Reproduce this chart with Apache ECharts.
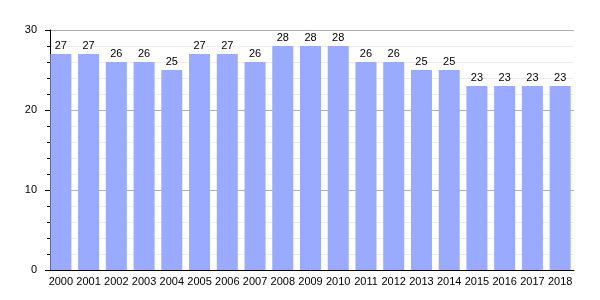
<!DOCTYPE html>
<html><head><meta charset="utf-8">
<script src="https://cdn.jsdelivr.net/npm/echarts@6/dist/echarts.min.js"></script>
<style>html,body{margin:0;padding:0;background:#fff}#c{width:600px;height:300px}</style>
</head><body><div id="c"></div>
<script>
const years = ['2000','2001','2002','2003','2004','2005','2006','2007','2008','2009','2010','2011','2012','2013','2014','2015','2016','2017','2018'];
const values = [27,27,26,26,25,27,27,26,28,28,28,26,26,25,25,23,23,23,23];
const chart = echarts.init(document.getElementById('c'), null, {renderer:'canvas'});
chart.setOption({
  animation:false,
  textStyle:{fontFamily:'Liberation Sans'},
  grid:{left:47,right:26,top:30,bottom:30},
  xAxis:{type:'category',data:years,
    axisLine:{lineStyle:{color:'#000',width:1}},
    axisTick:{show:false},
    axisLabel:{color:'#000',fontSize:11,margin:6,interval:0}},
  yAxis:{type:'value',min:0,max:30,interval:10,offset:-3,
    axisLine:{show:true,lineStyle:{color:'#000'}},
    axisTick:{show:true,length:5,lineStyle:{color:'#000'}},
    minorTick:{show:true,splitNumber:5,length:3,lineStyle:{color:'#000'}},
    minorSplitLine:{show:true,lineStyle:{color:'#ebebeb'}},
    splitLine:{lineStyle:{color:'#b0b0b0'}},
    axisLabel:{color:'#000',fontSize:11,margin:13}},
  series:[{type:'bar',data:values,barWidth:21,
    itemStyle:{color:'#99aaff'},
    label:{show:true,position:'top',color:'#000',fontSize:11,distance:3}}]
});
</script></body></html>
